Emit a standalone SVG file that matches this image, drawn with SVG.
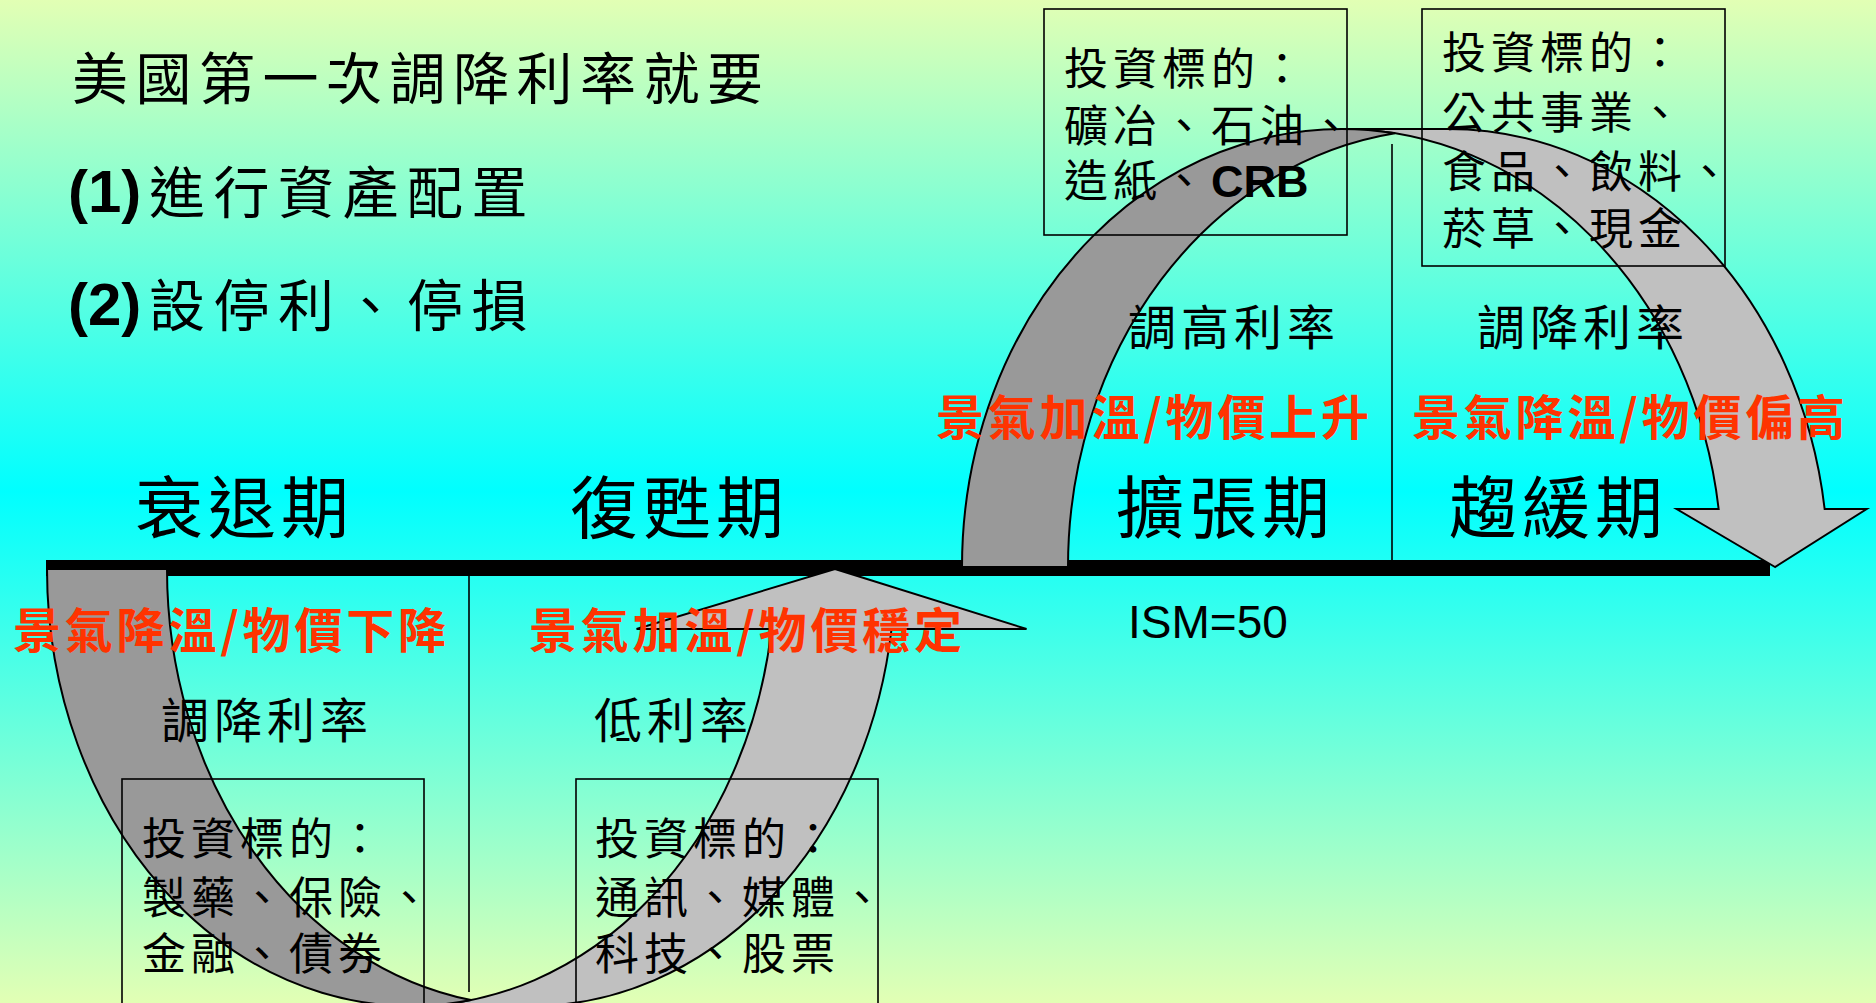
<svg xmlns="http://www.w3.org/2000/svg" width="1876" height="1003" viewBox="0 0 1876 1003">
  <defs>
    <linearGradient id="bg" x1="0" y1="0" x2="0" y2="1">
      <stop offset="0" stop-color="#E2FFB4"/>
      <stop offset="0.49" stop-color="#00FFFF"/>
      <stop offset="1" stop-color="#E2FFB4"/>
    </linearGradient>
    <style>
      .cjk { font-family: "Noto Sans CJK TC", "Noto Sans CJK SC", sans-serif; fill: #000; }
      .big { font-size: 56px; letter-spacing: 8.5px; }
      .ttl { letter-spacing: 7.5px; }
      .num { font-family: "Liberation Sans", Arial, sans-serif; font-weight: bold; font-size: 60px; fill: #000; }
      .phase { font-size: 68px; letter-spacing: 5px; }
      .red { font-size: 48px; letter-spacing: 3.8px; fill: #FF3300; font-weight: bold; }
      .lbl { font-size: 48px; letter-spacing: 5px; }
      .box { fill: none; stroke: #000; stroke-width: 1.6; }
      .boxt { font-size: 44px; letter-spacing: 5px; }
      .lat { font-family: "Liberation Sans", Arial, sans-serif; fill: #000; }
      .light { fill: #C0C0C0; stroke: #000; stroke-width: 2; stroke-linejoin: miter; }
      .dark { fill: #999999; stroke: #000; stroke-width: 2; }
      .div { stroke: #000; stroke-width: 1.6; }
    </style>
  </defs>

  <rect id="background" x="0" y="0" width="1876" height="1003" fill="url(#bg)"/>

  <g id="timeline">
    <rect x="46" y="560" width="1724" height="16" fill="#000"/>
    <line class="div" x1="1392" y1="144" x2="1392" y2="560"/>
    <line class="div" x1="469" y1="576" x2="469" y2="992"/>
  </g>

  <g id="connectors">
    <g id="arrow-top">
      <path class="light" d="M 1775 567 L 1676.65 509 L 1718.65 509 A 380 438 0 0 0 1342 129 L 1448 129 A 380 438 0 0 1 1824.65 509 L 1866.65 509 Z"/>
      <path class="dark" d="M 1395 133.28 A 380 438 0 0 0 1068 567 L 962 567 A 380 438 0 0 1 1395 133.28 Z"/>
    </g>
    <g id="arrow-bottom">
      <path class="light" d="M 835 569 L 1026.55 629 L 891.55 629 A 364 437 0 0 1 531 1006 L 411 1006 A 364 437 0 0 0 771.55 629 L 636.55 629 Z"/>
      <path class="dark" d="M 471 1000.02 A 364 437 0 0 1 167 569 L 47 569 A 364 437 0 0 0 471 1000.02 Z"/>
    </g>
  </g>

  <g id="title">
    <text class="cjk big ttl" x="72" y="99">美國第一次調降利率就要</text>
    <text class="num" x="68" y="212">(1)</text>
    <text class="cjk big" x="149" y="213">進行資產配置</text>
    <text class="num" x="68" y="325">(2)</text>
    <text class="cjk big" x="149" y="326">設停利、停損</text>
  </g>

  <g id="phase-recession">
    <text class="cjk phase" x="135" y="533">衰退期</text>
    <text class="cjk red" x="13" y="648">景氣降溫/物價下降</text>
    <text class="cjk lbl" x="161" y="738">調降利率</text>
  </g>
  <g id="box-recession">
    <rect class="box" x="122" y="779" width="302" height="240"/>
    <text class="cjk boxt" x="142" y="855">投資標的：</text>
    <text class="cjk boxt" x="142" y="914">製藥、保險、</text>
    <text class="cjk boxt" x="142" y="970">金融、債券</text>
  </g>

  <g id="phase-recovery">
    <text class="cjk phase" x="570" y="533">復甦期</text>
    <text class="cjk red" x="529" y="648">景氣加溫/物價穩定</text>
    <text class="cjk lbl" x="594" y="738">低利率</text>
  </g>
  <g id="box-recovery">
    <rect class="box" x="576" y="779" width="302" height="240"/>
    <text class="cjk boxt" x="595" y="855">投資標的：</text>
    <text class="cjk boxt" x="595" y="914">通訊、媒體、</text>
    <text class="cjk boxt" x="595" y="970">科技、股票</text>
  </g>

  <g id="phase-expansion">
    <text class="cjk phase" x="1116" y="533">擴張期</text>
    <text class="cjk red" x="936" y="435">景氣加溫/物價上升</text>
    <text class="cjk lbl" x="1128" y="345">調高利率</text>
    <text class="lat" x="1128" y="638" font-size="46">ISM=50</text>
  </g>
  <g id="box-expansion">
    <rect class="box" x="1044" y="9" width="303" height="226"/>
    <text class="cjk boxt" x="1064" y="85">投資標的：</text>
    <text class="cjk boxt" x="1064" y="142">礦冶、石油、</text>
    <text class="cjk boxt" x="1064" y="197">造紙、<tspan class="lat" font-weight="bold" font-size="45" letter-spacing="0">CRB</tspan></text>
  </g>

  <g id="phase-slowdown">
    <text class="cjk phase" x="1449" y="533">趨緩期</text>
    <text class="cjk red" x="1412" y="435">景氣降溫/物價偏高</text>
    <text class="cjk lbl" x="1477" y="345">調降利率</text>
  </g>
  <g id="box-slowdown">
    <rect class="box" x="1422" y="9" width="303" height="257"/>
    <text class="cjk boxt" x="1442" y="69">投資標的：</text>
    <text class="cjk boxt" x="1442" y="129">公共事業、</text>
    <text class="cjk boxt" x="1442" y="188">食品、飲料、</text>
    <text class="cjk boxt" x="1442" y="245">菸草、現金</text>
  </g>
</svg>
